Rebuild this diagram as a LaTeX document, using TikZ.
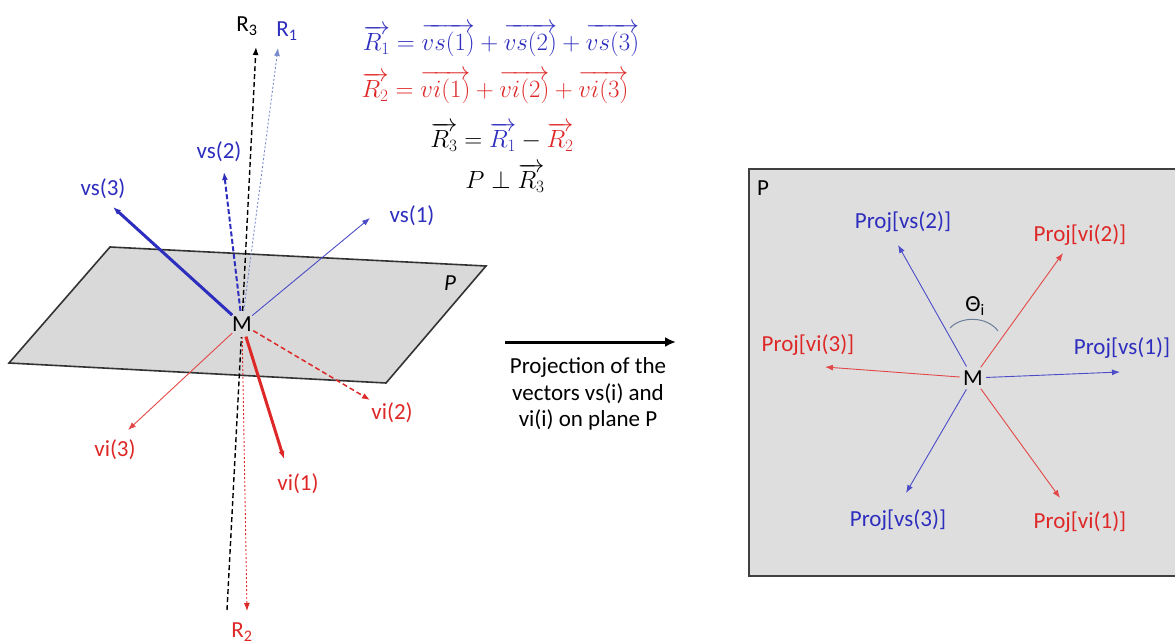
\documentclass[tikz,border=0pt]{standalone}
\usepackage{fontspec}
\setmainfont{Carlito}
\usetikzlibrary{arrows.meta}
\definecolor{vsblue}{RGB}{45,45,190}
\definecolor{vired}{RGB}{222,40,40}
\definecolor{planegray}{RGB}{217,217,217}
\definecolor{boxgray}{RGB}{222,222,222}
\definecolor{rlight}{RGB}{120,140,205}
\definecolor{arcgray}{RGB}{105,125,155}
\begin{document}
\begin{tikzpicture}[x=1pt,y=-1pt,
  lbl/.style={font=\fontsize{23}{27}\selectfont, inner sep=0pt},
  eq/.style={font=\fontsize{25}{29}\selectfont, inner sep=0pt},
  ctr/.style={circle, inner sep=0pt, minimum size=26pt, font=\fontsize{23}{27}\selectfont},
  tip/.style={-{Latex[length=8pt,width=6pt]}},
  planeline/.style={draw=black!80, line width=1.6pt, fill=planegray},
  vsthick/.style={tip, draw=vsblue, line width=3pt},
  vsdash/.style={tip, draw=vsblue, line width=2pt, dash pattern=on 5pt off 2.5pt},
  vsthin/.style={tip, draw=vsblue!85, line width=0.9pt},
  vithick/.style={tip, draw=vired, line width=3pt},
  vidash/.style={tip, draw=vired, line width=1.5pt, dash pattern=on 5pt off 3pt},
  vithin/.style={tip, draw=vired!85, line width=0.9pt},
  rthree/.style={draw=black, line width=1.4pt, dash pattern=on 5pt off 3pt},
  rone/.style={tip, draw=rlight, line width=0.9pt, dash pattern=on 2pt off 2pt},
  rtwo/.style={tip, draw=vired, line width=0.9pt, dash pattern=on 2pt off 2pt},
  pblue/.style={tip, draw=vsblue!85, line width=0.9pt},
  pred/.style={tip, draw=vired!85, line width=0.9pt}]
\useasboundingbox (0,0) rectangle (1175,644);

% ---------------- left: plane and vectors ----------------
\draw[planeline] (110,247) -- (486,266) -- (386,383) -- (9,363) -- cycle;
\node[lbl, font=\fontsize{23}{27}\selectfont\itshape] (Plbl) at (450,283) {P};

\node[ctr] (M) at (242,324) {M};

\coordinate (vsthreeTip) at (113,207);
\coordinate (vstwoTip) at (224,172);
\coordinate (vsoneTip) at (370,218);
\coordinate (rthreeTip) at (256,47);
\coordinate (rthreeBot) at (227,610);
\coordinate (roneTip) at (278,48);
\coordinate (rtwoTip) at (247,611);
\coordinate (vithreeTip) at (128,430);
\coordinate (vioneTip) at (284,459);
\coordinate (vitwoTip) at (370,400);

\draw[rthree] (rthreeBot) -- (M);
\draw[rthree, tip] (M) -- (rthreeTip);
\draw[rone] (M) -- (roneTip);
\draw[rtwo] (M) -- (rtwoTip);
\draw[vsthick] (M) -- (vsthreeTip);
\draw[vsdash] (M) -- (vstwoTip);
\draw[vsthin] (M) -- (vsoneTip);
\draw[vithin] (M) -- (vithreeTip);
\draw[vithick] (M) -- (vioneTip);
\draw[vidash] (M) -- (vitwoTip);

\node[lbl, text=vsblue] (vsthreeL) at (103,189) {vs(3)};
\node[lbl, text=vsblue] (vstwoL) at (219,152) {vs(2)};
\node[lbl, text=vsblue] (vsoneL) at (412,216) {vs(1)};
\node[lbl] (rthreeL) at (247,26) {R\textsubscript{3}};
\node[lbl, text=vsblue] (roneL) at (287,31) {R\textsubscript{1}};
\node[lbl, text=vired] (rtwoL) at (242,632) {R\textsubscript{2}};
\node[lbl, text=vired] (vithreeL) at (115,450) {vi(3)};
\node[lbl, text=vired] (vioneL) at (298,484) {vi(1)};
\node[lbl, text=vired] (vitwoL) at (392,413) {vi(2)};

% ---------------- equations ----------------
\node[eq, text=vsblue] (eqone) at (501,40)
  {$\overrightarrow{R_1}=\overrightarrow{vs(1)}+\overrightarrow{vs(2)}+\overrightarrow{vs(3)}$};
\node[eq, text=vired] (eqtwo) at (495,87)
  {$\overrightarrow{R_2}=\overrightarrow{vi(1)}+\overrightarrow{vi(2)}+\overrightarrow{vi(3)}$};
\node[eq] (eqthree) at (502,137)
  {$\overrightarrow{R_3}=\textcolor{vsblue}{\overrightarrow{R_1}}-\textcolor{vired}{\overrightarrow{R_2}}$};
\node[eq] (eqfour) at (505,178)
  {$P\perp\overrightarrow{R_3}$};

% ---------------- middle arrow ----------------
\coordinate (arrA) at (505,342);
\coordinate (arrB) at (676,342);
\draw[line width=3pt, -{Latex[length=11pt,width=10pt]}] (arrA) -- (arrB);
\node[lbl, align=center, font=\fontsize{23}{26.5}\selectfont] (projtxt) at (588,394)
  {Projection of the\\vectors vs(i) and\\vi(i) on plane P};

% ---------------- right: plane P seen from above ----------------
\draw[draw=black!75, line width=1.6pt, fill=boxgray] (749,169) rectangle (1190,576);
\node[lbl] (Pbox) at (763,188) {P};

\node[ctr] (Mr) at (973,378) {M};

\coordinate (pvstwoTip) at (898,245);
\coordinate (pvitwoTip) at (1063,253);
\coordinate (pvithreeTip) at (825,367);
\coordinate (pvsoneTip) at (1120,372);
\coordinate (pvsthreeTip) at (906,493);
\coordinate (pvioneTip) at (1060,498);

\draw[pblue] (Mr) -- (pvstwoTip);
\draw[pred] (Mr) -- (pvitwoTip);
\draw[pred] (Mr) -- (pvithreeTip);
\draw[pblue] (Mr) -- (pvsoneTip);
\draw[pblue] (Mr) -- (pvsthreeTip);
\draw[pred] (Mr) -- (pvioneTip);

\node[lbl, text=vsblue] (pvstwoL) at (903,222) {Proj[vs(2)]};
\node[lbl, text=vired] (pvitwoL) at (1080,235) {Proj[vi(2)]};
\node[lbl, text=vired] (pvithreeL) at (808,345) {Proj[vi(3)]};
\node[lbl, text=vsblue] (pvsoneL) at (1122,348) {Proj[vs(1)]};
\node[lbl, text=vsblue] (pvsthreeL) at (898,520) {Proj[vs(3)]};
\node[lbl, text=vired] (pvioneL) at (1080,522) {Proj[vi(1)]};

\coordinate (arcA) at (950,328);
\coordinate (arcB) at (998,331);
\draw[arcgray, line width=1pt] (arcA) .. controls (961,316) and (987,316) .. (arcB);
\node[lbl] (theta) at (975,306) {Θ\textsubscript{i}};
\end{tikzpicture}
\end{document}
